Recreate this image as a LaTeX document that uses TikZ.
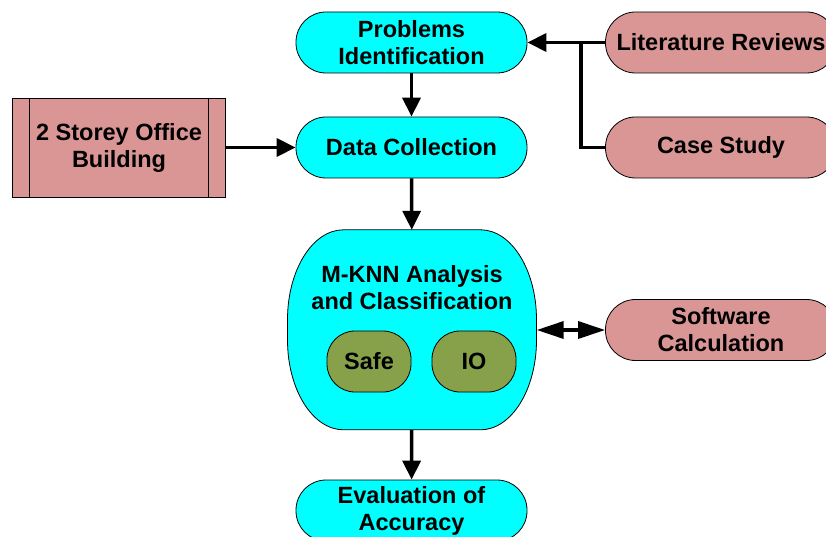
\documentclass[tikz,border=0pt]{standalone}
\usepackage{fontspec}
\setmainfont{Liberation Sans}
\usetikzlibrary{arrows.meta}
\definecolor{boxcyan}{RGB}{0,255,255}
\definecolor{boxpink}{RGB}{217,150,148}
\definecolor{boxgreen}{RGB}{134,161,74}

\begin{document}
\begin{tikzpicture}[x=1pt,y=1pt,
		txt/.style={font=\bfseries\fontsize{23.5}{27}\selectfont, align=center},
		pill/.style={txt, draw, line width=0.8pt, rounded corners=30pt, minimum width=231pt, minimum height=61pt},
		link/.style={line width=3.5pt},
		arr/.style={link, -{Triangle[length=19pt,width=18pt]}},
		dblarr/.style={link, {Triangle[length=27pt,width=17pt]}-{Triangle[length=27pt,width=17pt]}}]
			\clip (0,0) rectangle (826,536);
			\node[pill, fill=boxcyan] (prob) at (411.5,493.5) {Problems\\Identification};
			\node[pill, fill=boxcyan] (data) at (411.5,388.5) {Data Collection};
			\node[pill, fill=boxpink] (lit) at (721,493.5) {Literature Reviews};
			\node[pill, fill=boxpink] (case) at (721,388.5) {Case Study};
			\node[pill, fill=boxpink] (soft) at (721,206) {Software\\Calculation};
			\node[pill, fill=boxcyan] (eval) at (411.5,25.5) {Evaluation of\\Accuracy};
			\node[txt, draw, line width=0.8pt, fill=boxpink, minimum width=213pt, minimum height=99pt] (bldg) at (119,388.5) {2 Storey Office\\Building};
			\draw[line width=0.8pt] ([xshift=17.5pt]bldg.north west) -- ([xshift=17.5pt]bldg.south west);
			\draw[line width=0.8pt] ([xshift=-17.5pt]bldg.north east) -- ([xshift=-17.5pt]bldg.south east);
			% analysis block
			\node[minimum width=249pt, minimum height=200pt] (mknn) at (412,206) {};
			\filldraw[line width=0.8pt, fill=boxcyan] (mknn.north) ++(-68.5,0) -- ++(137,0)
				arc[start angle=90, end angle=0, x radius=56pt, y radius=90pt] -- ++(0,-20)
				arc[start angle=0, end angle=-90, x radius=56pt, y radius=90pt] -- ++(-137,0)
				arc[start angle=270, end angle=180, x radius=56pt, y radius=90pt] -- ++(0,20)
				arc[start angle=180, end angle=90, x radius=56pt, y radius=90pt] -- cycle;
			\node[txt] (mknntitle) at (412,248.5) {M-KNN Analysis\\and Classification};
			\node[txt, draw, line width=0.8pt, fill=boxgreen, rounded corners=28pt, minimum width=84pt, minimum height=61pt] (safe) at (369,174.5) {Safe};
			\node[txt, draw, line width=0.8pt, fill=boxgreen, rounded corners=28pt, minimum width=84pt, minimum height=61pt] (io) at (474,174.5) {IO};
			% connectors
			\coordinate (jn) at (581,493.5);
			\draw[arr] (lit) -- (prob);
			\draw[link] (jn) |- (case);
			\draw[arr] (prob) -- (data);
			\draw[arr] (bldg) -- (data);
			\draw[arr] (data) -- (mknn);
			\draw[arr] (mknn) -- (eval);
			\draw[dblarr] (mknn) -- (soft);
		\end{tikzpicture}
\end{document}
